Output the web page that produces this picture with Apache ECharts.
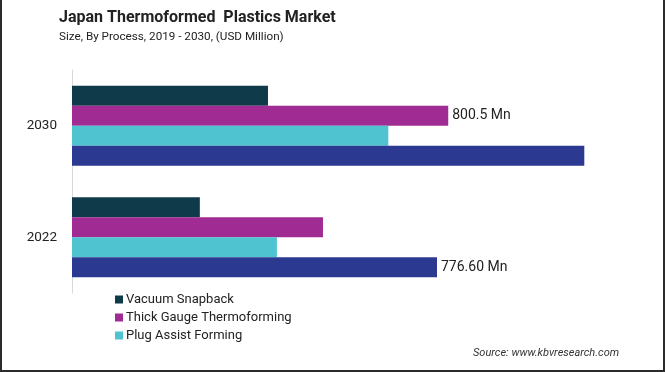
<!DOCTYPE html>
<html><head><meta charset="utf-8">
<script src="https://cdn.jsdelivr.net/npm/echarts@6/dist/echarts.min.js"></script>
<style>
html,body{margin:0;padding:0;background:#fff;}
#wrap{position:relative;width:665px;height:372px;}
#chart{width:665px;height:372px;}
#frame{position:absolute;left:0;top:0;width:665px;height:372px;box-sizing:border-box;border-left:2px solid #2b2b2b;border-right:2px solid #2b2b2b;border-bottom:2px solid #2b2b2b;pointer-events:none;}
</style></head>
<body><div id="wrap"><div id="chart"></div><div id="frame"></div></div>
<script>
const categories = ['2022', '2030'];
const seriesNames = ['Vacuum Snapback', 'Thick Gauge Thermoforming', 'Plug Assist Forming', 'Others'];
const vacuumSnapback = [272, 417];
const thickGauge = [534, 800.5];
const plugAssist = [436, 673];
const others = [776.6, 1090];
const labelTexts = [[null, null], [null, '800.5 Mn'], [null, null], ['776.60 Mn', null]];
const colors = ['#0f3a4a', '#a02b93', '#4fc3d0', '#2b3990'];
const allData = [vacuumSnapback, thickGauge, plugAssist, others];

const chart = echarts.init(document.getElementById('chart'));
const series = allData.map((arr, si) => ({
  name: seriesNames[si],
  type: 'bar',
  barWidth: 20,
  barGap: '0%',
  itemStyle: { color: colors[si] },
  data: arr.map((v, ci) => ({
    value: v,
    label: labelTexts[si][ci] ? {
      show: true, position: 'right', distance: 4,
      formatter: labelTexts[si][ci], color: '#222', fontSize: 14, fontFamily: 'Roboto'
    } : { show: false }
  }))
}));
chart.setOption({
  animation: false,
  title: [{
    text: 'Japan Thermoformed  Plastics Market',
    left: 54, top: 5,
    textStyle: { fontSize: 16, fontWeight: 'bold', color: '#222', fontFamily: 'Roboto' }
  }, {
    text: 'Size, By Process, 2019 - 2030, (USD Million)',
    left: 54, top: 26,
    textStyle: { fontSize: 11.7, fontWeight: 'normal', color: '#222', fontFamily: 'Roboto' }
  }, {
    text: 'Source: www.kbvresearch.com',
    left: 468, top: 343,
    textStyle: { fontSize: 11, fontStyle: 'italic', fontWeight: 'normal', color: '#333', fontFamily: 'Roboto' }
  }],
  legend: {
    data: seriesNames.slice(0, 3),
    orient: 'vertical', left: 110, top: 288,
    itemWidth: 8, itemHeight: 8, itemGap: 5, icon: 'rect',
    textStyle: { fontSize: 13, color: '#222', fontFamily: 'Roboto', padding: [0, 0, 0, -2] }
  },
  grid: { left: 72, top: 70, width: 564, height: 223 },
  xAxis: { type: 'value', min: 0, max: 1200, show: false, splitLine: { show: false } },
  yAxis: {
    type: 'category', data: categories,
    axisLine: { show: true, lineStyle: { color: '#d9d9d9', width: 1 } },
    axisTick: { show: false },
    axisLabel: { fontSize: 13.5, color: '#222', fontFamily: 'Roboto', margin: 15 }
  },
  series: series
});
</script></body></html>
